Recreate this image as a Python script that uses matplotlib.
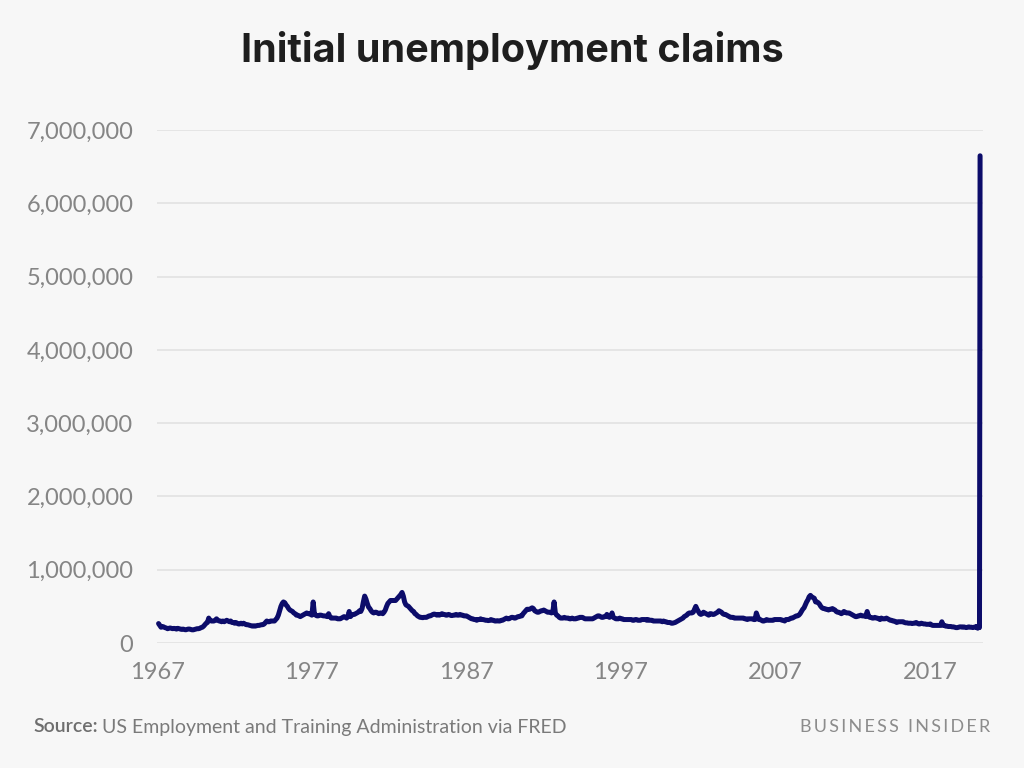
import matplotlib
matplotlib.use("Agg")
import matplotlib.pyplot as plt
import matplotlib.ticker as mticker
import pandas as pd

# Weekly initial claims (thousands)
claims_1967_1969 = [
    265, 240, 215, 225, 220, 210, 205, 195, 200, 205, 200, 195,
    200, 195, 190, 200, 195, 190, 185, 190, 185, 180, 185, 190,
    190, 185, 180, 180, 185, 190, 195, 195, 200, 210, 215, 230,
]
claims_1970s = [
    250, 270, 280, 340, 310, 300, 300, 300, 310, 330, 310, 300,
    300, 290, 300, 290, 300, 310, 300, 290, 300, 280, 280, 270,
    280, 270, 260, 260, 270, 260, 270, 260, 250, 250, 245, 240,
    235, 230, 235, 230, 235, 240, 240, 245, 250, 250, 260, 280,
    300, 290, 290, 300, 300, 300, 300, 320, 340, 380, 440, 500,
    540, 560, 550, 520, 500, 470, 450, 440, 430, 410, 400, 380,
    380, 370, 360, 370, 380, 390, 400, 410, 400, 400, 390, 380,
    560, 400, 380, 370, 370, 380, 380, 375, 370, 370, 365, 360,
    400, 360, 340, 340, 340, 340, 340, 330, 330, 330, 340, 350,
    360, 350, 340, 360, 430, 360, 380, 390, 390, 400, 410, 420,
]
claims_1980s = [
    440, 430, 470, 560, 640, 600, 540, 490, 470, 440, 420, 410,
    420, 420, 410, 400, 410, 410, 400, 420, 450, 500, 540, 560,
    580, 580, 580, 580, 580, 600, 620, 640, 660, 690, 640, 560,
    520, 510, 500, 480, 460, 440, 430, 400, 390, 370, 360, 350,
    350, 345, 350, 350, 350, 360, 370, 370, 380, 390, 395, 390,
    380, 390, 380, 390, 400, 390, 390, 380, 380, 390, 385, 375,
    375, 380, 380, 390, 380, 380, 390, 380, 380, 370, 370, 370,
    360, 350, 340, 330, 330, 320, 320, 310, 320, 320, 330, 320,
    320, 315, 310, 310, 305, 310, 320, 310, 310, 300, 300, 305,
    300, 300, 310, 310, 320, 330, 340, 330, 330, 340, 350, 350,
]
claims_1990s = [
    340, 340, 350, 360, 360, 370, 370, 400, 420, 440, 460, 460,
    460, 470, 480, 470, 440, 430, 420, 420, 430, 440, 440, 450,
    440, 430, 420, 420, 420, 410, 420, 560, 410, 380, 370, 350,
    340, 340, 340, 350, 340, 340, 340, 330, 330, 340, 330, 330,
    330, 340, 340, 350, 350, 350, 340, 330, 330, 330, 330, 330,
    330, 330, 340, 350, 360, 370, 370, 360, 350, 350, 360, 360,
    390, 360, 350, 360, 410, 350, 340, 330, 330, 330, 340, 330,
    330, 320, 320, 320, 320, 320, 320, 320, 310, 310, 320, 320,
    310, 310, 310, 320, 320, 320, 320, 310, 320, 310, 310, 310,
    300, 300, 300, 300, 300, 300, 300, 290, 300, 290, 290, 280,
]
claims_2000s = [
    280, 280, 270, 270, 275, 280, 290, 300, 310, 320, 330, 340,
    360, 370, 380, 400, 410, 410, 410, 420, 460, 500, 460, 430,
    400, 390, 400, 420, 410, 400, 390, 380, 400, 400, 390, 390,
    400, 410, 420, 440, 430, 420, 400, 390, 390, 380, 370, 360,
    350, 350, 350, 340, 340, 340, 340, 340, 340, 340, 340, 330,
    330, 320, 330, 330, 330, 330, 320, 320, 410, 360, 320, 320,
    310, 300, 300, 310, 320, 310, 310, 310, 310, 310, 320, 320,
    320, 320, 320, 320, 310, 310, 300, 320, 320, 320, 330, 340,
    340, 350, 360, 370, 370, 380, 400, 430, 460, 480, 520, 560,
    590, 630, 650, 630, 620, 610, 560, 560, 550, 530, 500, 480,
]
claims_2010s = [
    470, 470, 460, 460, 450, 460, 460, 470, 460, 450, 430, 420,
    420, 410, 400, 410, 430, 420, 410, 410, 410, 400, 390, 380,
    370, 360, 360, 370, 370, 380, 370, 370, 370, 360, 430, 370,
    350, 350, 340, 340, 350, 340, 340, 330, 320, 340, 330, 330,
    330, 340, 330, 320, 310, 310, 300, 300, 290, 280, 290, 290,
    290, 290, 290, 280, 275, 275, 270, 270, 270, 265, 270, 270,
    280, 270, 260, 260, 270, 265, 260, 260, 255, 255, 255, 260,
    245, 240, 240, 240, 240, 240, 240, 240, 290, 240, 240, 230,
    230, 225, 225, 225, 220, 220, 215, 210, 210, 215, 220, 220,
    215, 220, 215, 210, 215, 220, 215, 215, 210, 215, 220, 225,
]
weeks_2020 = ["2020-01-04", "2020-01-11", "2020-01-18", "2020-01-25",
              "2020-02-01", "2020-02-08", "2020-02-15", "2020-02-22",
              "2020-02-29", "2020-03-07", "2020-03-14", "2020-03-21",
              "2020-03-28"]
claims_2020 = [212, 220, 217, 210, 202, 210, 216, 211, 219, 216, 211, 3307, 6648]

years_shown = [1967, 1977, 1987, 1997, 2007, 2017]
y_ticks = [0, 1000000, 2000000, 3000000, 4000000, 5000000, 6000000, 7000000]

monthly = (claims_1967_1969 + claims_1970s + claims_1980s
           + claims_1990s + claims_2000s + claims_2010s)
month_dates = pd.date_range("1967-01-07", periods=len(monthly), freq="MS") + pd.Timedelta(days=6)
dates = list(month_dates) + list(pd.to_datetime(weeks_2020))
values = [v * 1000 for v in monthly + claims_2020]

bg = "#f7f7f7"
line_color = "#0c0c6a"
grey = "#858585"

fig = plt.figure(figsize=(10.24, 7.68), dpi=100, facecolor=bg)
ax = fig.add_axes([157 / 1024, 1 - 643 / 768, 826 / 1024, 513 / 768], facecolor=bg)

ax.plot(dates, values, color=line_color, lw=3.6, solid_joinstyle="round",
        solid_capstyle="round", clip_on=False, zorder=3)

ax.set_ylim(0, 7000000)
ax.set_xlim(pd.Timestamp("1967-01-01"), pd.Timestamp("2020-06-05"))
ax.set_yticks(y_ticks)
ax.yaxis.set_major_formatter(mticker.FuncFormatter(lambda v, p: f"{int(v):,}"))
ax.set_xticks([pd.Timestamp(f"{y}-01-01") for y in years_shown])
ax.set_xticklabels([str(y) for y in years_shown])

ax.grid(axis="y", color="#e2e2e2", lw=1.2, zorder=0)
ax.grid(axis="x", visible=False)
for s in ax.spines.values():
    s.set_visible(False)
ax.tick_params(axis="both", length=0, labelsize=17, labelcolor=grey)
ax.tick_params(axis="y", pad=17)
ax.tick_params(axis="x", pad=14)
for lab in ax.get_xticklabels() + ax.get_yticklabels():
    lab.set_fontfamily("Lato")

fig.text(0.5, 1 - 51 / 768, "Initial unemployment claims", ha="center", va="center",
         fontsize=28.5, fontweight="bold", color="#1e1e1e", family="Inter")

src = fig.text(33 / 1024, 1 - 727 / 768, "Source:", ha="left", va="center",
               fontsize=14, fontweight="semibold", color="#6e6e6e", family="Lato")
ax.annotate("US Employment and Training Administration via FRED",
            xy=(1, 0.5), xycoords=src, xytext=(3, 0), textcoords="offset points",
            ha="left", va="center", fontsize=14, color="#7a7a7a", family="Lato",
            annotation_clip=False)
fig.text(990 / 1024, 1 - 727 / 768, "\u2009".join("BUSINESS INSIDER"), ha="right", va="center",
         fontsize=13, color="#8c8c8c", family=["Lato", "DejaVu Sans"])

fig.savefig("out.png", dpi=100, facecolor=bg)
